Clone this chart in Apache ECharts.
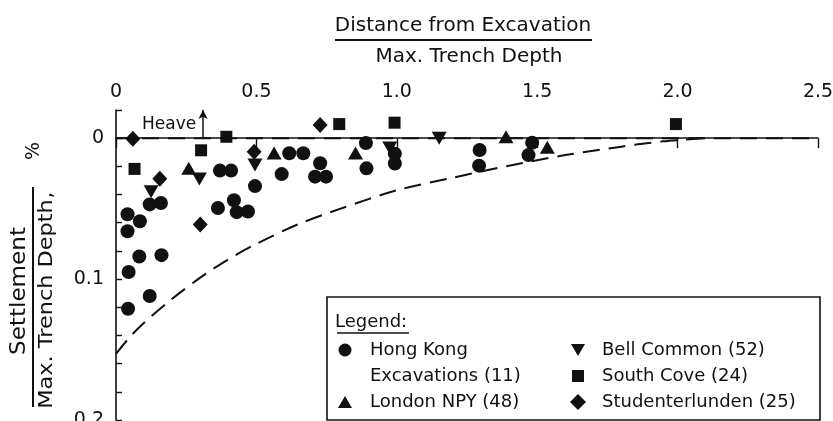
<!DOCTYPE html>
<html>
<head>
<meta charset="utf-8">
<script src="https://cdn.jsdelivr.net/npm/echarts@6/dist/echarts.min.js"></script>
<style>
  html, body { margin: 0; padding: 0; background: #ffffff; }
  #chart { width: 833px; height: 421px; }
</style>
</head>
<body>
<div id="chart"></div>
<script>
// Normalised distance (x) vs normalised settlement in % (y, positive = downward)
const hongKong = [
  [0.041, 0.054], [0.085, 0.059], [0.041, 0.066], [0.120, 0.047], [0.160, 0.046],
  [0.083, 0.084], [0.162, 0.083], [0.045, 0.095], [0.120, 0.112], [0.043, 0.121],
  [0.370, 0.023], [0.410, 0.023], [0.363, 0.0495], [0.420, 0.044], [0.430, 0.0525],
  [0.470, 0.052], [0.495, 0.034], [0.590, 0.0255], [0.617, 0.0107], [0.667, 0.0107],
  [0.727, 0.0178], [0.709, 0.0273], [0.748, 0.0273], [0.890, 0.0035], [0.892, 0.0214],
  [0.993, 0.011], [0.993, 0.018], [1.295, 0.0084], [1.293, 0.0195], [1.482, 0.0032],
  [1.469, 0.012]
];
const londonNPY = [
  [0.259, 0.0214], [0.563, 0.0105], [0.853, 0.0105], [1.389, -0.001], [1.536, 0.0065]
];
const bellCommon = [
  [0.125, 0.038], [0.297, 0.029], [0.495, 0.019], [0.975, 0.007], [1.151, 0.0]
];
const southCove = [
  [0.066, 0.0218], [0.303, 0.0086], [0.393, -0.001], [0.795, -0.010], [0.992, -0.011], [1.994, -0.010]
];
const studenterlunden = [
  [0.060, 0.0004], [0.156, 0.0288], [0.300, 0.0612], [0.492, 0.0096], [0.727, -0.0094]
];
// Upper bound of observed settlements
const envelope = [
  [0.0, 0.153], [0.05, 0.141], [0.1, 0.131], [0.2, 0.114], [0.3, 0.099], [0.4, 0.086],
  [0.5, 0.075], [0.65, 0.061], [0.8, 0.050], [1.0, 0.037], [1.2, 0.028],
  [1.4, 0.0195], [1.6, 0.012], [1.8, 0.006], [1.95, 0.0022], [2.1, 0.0]
];
const zeroLine = [[0, 0], [2.5, 0]];
const heaveArrow = [[0.31, 0], [0.31, -0.02]];
const xTickValues = [0, 0.5, 1.0, 1.5, 2.0, 2.5];
const yLabelValues = [0, 0.1, 0.2];

const ink = '#111111';
const font = "'DejaVu Sans', 'Noto Sans', sans-serif";

const chart = echarts.init(document.getElementById('chart'), null, { renderer: 'canvas' });

function scatter(name, data, symbol, size) {
  return {
    name, type: 'scatter', data, symbol, symbolSize: size,
    itemStyle: { color: ink, opacity: 1 }, z: 5, silent: true
  };
}

const option = {
  backgroundColor: '#ffffff',
  animation: false,
  grid: { left: 116, top: 110, width: 702, height: 310, containLabel: false, outerBoundsMode: 'none' },
  xAxis: {
    type: 'value', position: 'top', min: 0, max: 2.5, interval: 0.5,
    axisLine: { show: true, lineStyle: { color: ink, width: 1.6 } },
    axisTick: { show: true, inside: true, length: 10, lineStyle: { color: ink, width: 1.4 } },
    axisLabel: {
      margin: 8, color: ink, fontSize: 19, fontFamily: font,
      formatter: v => {
        const hit = xTickValues.find(t => Math.abs(t - v) < 1e-9);
        if (hit === undefined) return '';
        return hit === 0 ? '0' : hit.toFixed(1);
      }
    },
    splitLine: { show: false }
  },
  yAxis: {
    type: 'value', inverse: true, min: -0.02, max: 0.2, interval: 0.02,
    axisLine: { show: true, lineStyle: { color: ink, width: 1.6 } },
    axisTick: { show: true, inside: true, length: 6, lineStyle: { color: ink, width: 1.4 } },
    axisLabel: {
      margin: 12, color: ink, fontSize: 19, fontFamily: font,
      formatter: v => {
        const hit = yLabelValues.find(t => Math.abs(t - v) < 1e-9);
        if (hit === undefined) return '';
        return hit === 0 ? '0' : String(hit);
      }
    },
    splitLine: { show: false }
  },
  series: [
    {
      name: 'zero', type: 'line', data: zeroLine, showSymbol: false, silent: true,
      lineStyle: { color: ink, width: 2, type: [17, 9] }, z: 3,
      markLine: {
        silent: true, symbol: ['none', 'arrow'], symbolSize: [7, 9],
        lineStyle: { color: ink, width: 1.5, type: 'solid' },
        label: { show: false },
        data: [[{ coord: heaveArrow[0] }, { coord: heaveArrow[1] }]]
      }
    },
    {
      name: 'envelope', type: 'line', data: envelope, showSymbol: false, silent: true,
      smooth: 0.3,
      lineStyle: { color: ink, width: 2, type: [17, 9] }, z: 3
    },
    scatter('Hong Kong Excavations (11)', hongKong, 'circle', 14),
    scatter('London NPY (48)', londonNPY, 'triangle', [15, 13]),
    scatter('Bell Common (52)', bellCommon, 'path://M0,0L2,0L1,1.75Z', [15, 13]),
    scatter('South Cove (24)', southCove, 'rect', 12),
    scatter('Studenterlunden (25)', studenterlunden, 'diamond', [15, 16])
  ],
  graphic: [
    // Horizontal axis title as a fraction
    { type: 'text', x: 463, y: 26, style: { text: 'Distance from Excavation', font: "20px " + font, fill: ink, align: 'center', verticalAlign: 'middle' } },
    { type: 'line', shape: { x1: 335, y1: 40, x2: 592, y2: 40 }, style: { stroke: ink, lineWidth: 2 } },
    { type: 'text', x: 469, y: 57, style: { text: 'Max. Trench Depth', font: "20px " + font, fill: ink, align: 'center', verticalAlign: 'middle' } },
    // Vertical axis title as a fraction
    { type: 'text', x: 20, y: 291, rotation: Math.PI / 2, scaleX: 1.1, style: { text: 'Settlement', font: "21px " + font, fill: ink, align: 'center', verticalAlign: 'middle' } },
    { type: 'line', shape: { x1: 33, y1: 187, x2: 33, y2: 407 }, style: { stroke: ink, lineWidth: 2 } },
    { type: 'text', x: 47, y: 304, rotation: Math.PI / 2, scaleX: 1.12, style: { text: 'Max. Trench Depth', font: "20px " + font, fill: ink, align: 'center', verticalAlign: 'middle' } },
    { type: 'text', x: 47, y: 195, rotation: Math.PI / 2, style: { text: ',', font: "20px " + font, fill: ink, align: 'center', verticalAlign: 'middle' } },
    { type: 'text', x: 34, y: 151, rotation: Math.PI / 2, style: { text: '%', font: "19px " + font, fill: ink, align: 'center', verticalAlign: 'middle' } },
    // Heave note
    { type: 'text', x: 142, y: 125, style: { text: 'Heave', font: "17px " + font, fill: ink, align: 'left', verticalAlign: 'middle' } },
    // Legend panel
    {
      type: 'group', z: 100,
      children: [
        { type: 'rect', shape: { x: 327, y: 297, width: 493, height: 123 }, style: { fill: '#ffffff', stroke: ink, lineWidth: 1.6 } },
        { type: 'text', x: 335, y: 322, style: { text: 'Legend:', font: "18px " + font, fill: ink, align: 'left', verticalAlign: 'middle' } },
        { type: 'line', shape: { x1: 337, y1: 333, x2: 409, y2: 333 }, style: { stroke: ink, lineWidth: 1.6 } },
        { type: 'circle', shape: { cx: 345, cy: 350, r: 6.5 }, style: { fill: ink } },
        { type: 'text', x: 370, y: 350, style: { text: 'Hong Kong', font: "18px " + font, fill: ink, verticalAlign: 'middle' } },
        { type: 'text', x: 370, y: 376, style: { text: 'Excavations (11)', font: "18px " + font, fill: ink, verticalAlign: 'middle' } },
        { type: 'polygon', shape: { points: [[338, 408], [352, 408], [345, 396]] }, style: { fill: ink } },
        { type: 'text', x: 370, y: 402, style: { text: 'London NPY (48)', font: "18px " + font, fill: ink, verticalAlign: 'middle' } },
        { type: 'polygon', shape: { points: [[571, 344], [585, 344], [578, 356]] }, style: { fill: ink } },
        { type: 'text', x: 602, y: 350, style: { text: 'Bell Common (52)', font: "18px " + font, fill: ink, verticalAlign: 'middle' } },
        { type: 'rect', shape: { x: 572, y: 370, width: 12, height: 12 }, style: { fill: ink } },
        { type: 'text', x: 602, y: 376, style: { text: 'South Cove (24)', font: "18px " + font, fill: ink, verticalAlign: 'middle' } },
        { type: 'polygon', shape: { points: [[578, 394], [586, 402], [578, 410], [570, 402]] }, style: { fill: ink } },
        { type: 'text', x: 602, y: 402, style: { text: 'Studenterlunden (25)', font: "18px " + font, fill: ink, verticalAlign: 'middle' } }
      ]
    }
  ]
};

chart.setOption(option);
</script>
</body>
</html>
